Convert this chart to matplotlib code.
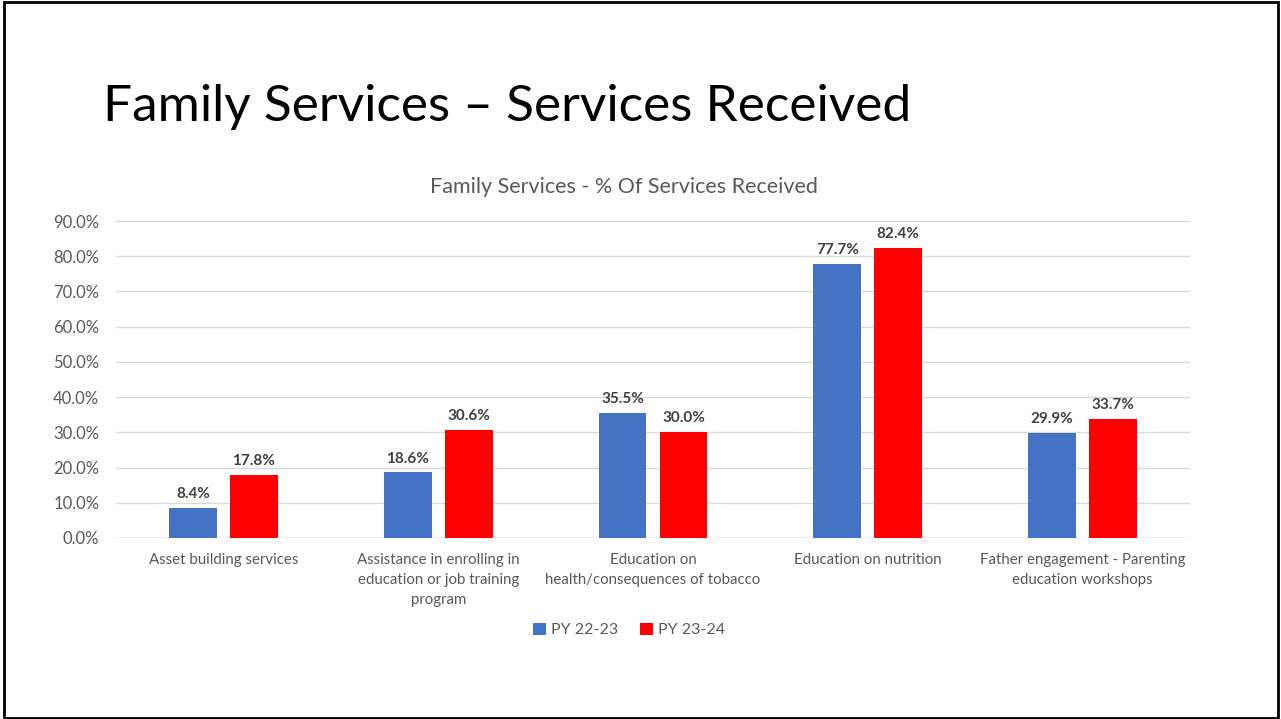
import matplotlib
matplotlib.use("Agg")
import matplotlib.pyplot as plt
import numpy as np
from matplotlib.patches import Rectangle
from matplotlib.ticker import FuncFormatter

plt.rcParams["font.family"] = ["Lato", "DejaVu Sans"]

categories = [
    "Asset building services",
    "Assistance in enrolling in\neducation or job training\nprogram",
    "Education on\nhealth/consequences of tobacco",
    "Education on nutrition",
    "Father engagement - Parenting\neducation workshops",
]
py_22_23 = [8.4, 18.6, 35.5, 77.7, 29.9]
py_23_24 = [17.8, 30.6, 30.0, 82.4, 33.7]
series_names = ["PY 22-23", "PY 23-24"]

BLUE = "#4472C4"
RED = "#FF0000"
GREY = "#595959"

fig = plt.figure(figsize=(12.81, 7.19), dpi=100)
fig.patch.set_facecolor("white")

# slide frame
fig.add_artist(Rectangle((0.0035, 0.002), 0.9945, 0.995, transform=fig.transFigure,
                         fill=False, edgecolor="black", linewidth=2))

fig.text(103 / 1281, 1 - 107 / 719, "Family Services \u2013 Services Received",
         fontsize=37, color="black", ha="left", va="center")

ax = fig.add_axes([116 / 1281, 1 - 538 / 719, (1190 - 116) / 1281, (538 - 221) / 719])
x = np.arange(len(categories))
width = 0.223
offset = 0.142
b1 = ax.bar(x - offset, py_22_23, width, color=BLUE, label=series_names[0], zorder=3)
b2 = ax.bar(x + offset, py_23_24, width, color=RED, label=series_names[1], zorder=3)

for bars, vals in ((b1, py_22_23), (b2, py_23_24)):
    for bar, v in zip(bars, vals):
        ax.annotate(f"{v:.1f}%", (bar.get_x() + bar.get_width() / 2, v),
                    xytext=(0, 5), textcoords="offset points", ha="center", va="bottom",
                    fontsize=11, fontweight="bold", color="#404040")

ax.set_xlim(-0.5, len(categories) - 0.5)
ax.set_ylim(0, 90)
ax.set_yticks(np.arange(0, 91, 10))
ax.yaxis.set_major_formatter(FuncFormatter(lambda v, _: f"{v:.1f}%"))
ax.grid(axis="y", color="#D9D9D9", linewidth=1, zorder=0)
ax.set_xticks(x)
ax.set_xticklabels(categories, color=GREY, linespacing=1.55, va="top")
ax.tick_params(axis="both", length=0, labelsize=12, colors=GREY)
ax.tick_params(axis="x", labelsize=10.8, pad=11)
ax.tick_params(axis="y", pad=12)
for spine in ax.spines.values():
    spine.set_visible(False)
ax.axhline(0, color="#D9D9D9", linewidth=1, zorder=2)

fig.text(624 / 1281, 1 - 187 / 719, "Family Services - % Of Services Received",
         fontsize=15.5, color=GREY, ha="center", va="center")

fig.legend(handles=[b1, b2], loc="center", bbox_to_anchor=(629 / 1281, 1 - 630 / 719),
           ncol=2, frameon=False, fontsize=11.5, labelcolor=GREY, handlelength=0.8,
           handleheight=0.8, handletextpad=0.3, columnspacing=1.4)

fig.savefig("out.png", dpi=100)
